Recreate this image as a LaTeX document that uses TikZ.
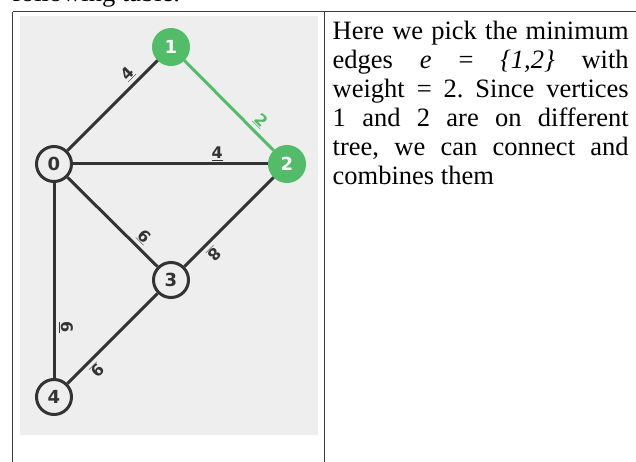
\documentclass[tikz,border=0pt]{standalone}
\usepackage{fontspec}
\setmainfont{Liberation Serif}
\newfontfamily\vsans{DejaVu Sans}
\usetikzlibrary{calc}
\definecolor{edgec}{HTML}{333333}
\definecolor{vgreen}{HTML}{52BC69}
\definecolor{panel}{HTML}{EEEEEE}
\definecolor{rulec}{HTML}{3A3A3A}
\begin{document}
\begin{tikzpicture}[x=1pt,y=-1pt,
  vtx/.style={circle, draw=edgec, line width=3pt, fill=panel, minimum size=35pt, inner sep=0pt,
              font=\vsans\bfseries\fontsize{18}{18}\selectfont, text=edgec},
  gvtx/.style={vtx, draw=vgreen, fill=vgreen, text=white},
  edgeln/.style={draw=edgec, line width=3pt},
  gedgeln/.style={draw=vgreen, line width=3pt},
  wlab/.style={font=\vsans\bfseries\fontsize{16}{16}\selectfont, text=edgec, inner sep=0pt, anchor=base},
  gwlab/.style={wlab, text=vgreen},
  tabrule/.style={draw=rulec, line width=1pt},
]
\useasboundingbox (0,0) rectangle (636,462);
\clip (0,0) rectangle (636,462);
% text cut off above the table
\node[anchor=base west, inner sep=0pt, font=\fontsize{26.5}{29}\selectfont] (top) at (12,2) {following table.};
% table rules
\draw[tabrule] (12.5,12) -- (636,12);
\draw[tabrule] (12.5,12) -- (12.5,462);
\draw[tabrule] (324.5,12) -- (324.5,462);
% grey panel
\fill[panel] (20,16) rectangle (318,435);
% vertices
\node[vtx]  (v0) at (54,164) {0};
\node[gvtx] (v1) at (171,47) {1};
\node[gvtx] (v2) at (287,164) {2};
\node[vtx]  (v3) at (171,280) {3};
\node[vtx]  (v4) at (54,397) {4};
% edges
\draw[edgeln] (v0) -- (v1);
\draw[gedgeln] (v1) -- (v2);
\draw[edgeln] (v0) -- (v2);
\draw[edgeln] (v0) -- (v3);
\draw[edgeln] (v0) -- (v4);
\draw[edgeln] (v2) -- (v3);
\draw[edgeln] (v3) -- (v4);
% weights
\node[wlab, rotate=45]   (w01) at ($(v0)!0.7!(v1)!7pt!90:(v1)$) {\underline{4}};
\node[gwlab, rotate=-45] (w12) at ($(v1)!0.7!(v2)!7pt!90:(v2)$) {\underline{2}};
\node[wlab]              (w02) at ($(v0)!0.7!(v2)!5pt!90:(v2)$) {\underline{4}};
\node[wlab, rotate=-45]  (w03) at ($(v0)!0.7!(v3)!7pt!90:(v3)$) {\underline{6}};
\node[wlab, rotate=-90]  (w04) at ($(v0)!0.7!(v4)!7pt!90:(v4)$) {\underline{6}};
\node[wlab, rotate=-135] (w23) at ($(v2)!0.7!(v3)!7pt!90:(v3)$) {\underline{8}};
\node[wlab, rotate=-135] (w34) at ($(v3)!0.7!(v4)!7pt!90:(v4)$) {\underline{9}};
% description
\node[anchor=base west, inner sep=0pt] (txt) at (332.5,40) {\parbox[t]{296pt}{\fontsize{26.5}{29}\selectfont\frenchspacing
Here we pick the minimum\linebreak
edges \textit{e} = \textit{\{1,2\}} with\linebreak
weight = 2. Since vertices\linebreak
1 and 2 are on different\linebreak
tree, we can connect and\linebreak
combines them}};
\end{tikzpicture}
\end{document}
